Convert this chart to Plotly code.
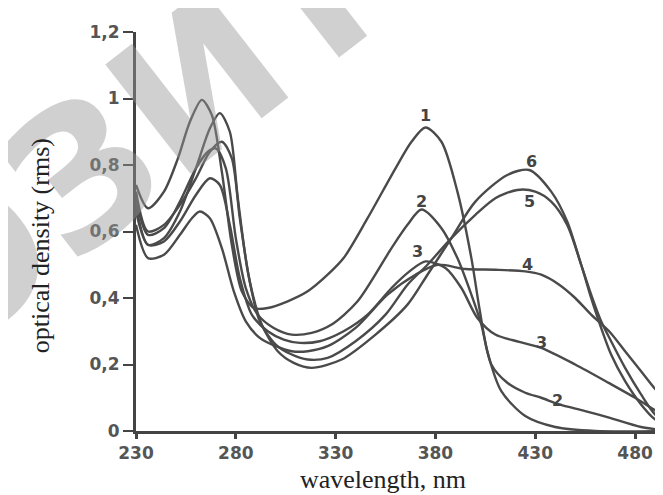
import plotly.graph_objects as go

# x-axis ticks and y-axis ticks
x_ticks = [230, 280, 330, 380, 430, 480]
y_ticks = [0, 0.2, 0.4, 0.6, 0.8, 1.0, 1.2]
y_tick_text = ["0", "0,2", "0,4", "0,6", "0,8", "1", "1,2"]

# curve 1
wl1 = [230, 236, 244, 251, 257, 263, 268, 273, 278, 283, 289, 296, 306, 316, 326, 334, 346, 360, 368, 375,
       383, 391, 398, 402, 406, 413, 425, 440, 460, 498]
od1 = [0.74, 0.67, 0.72, 0.82, 0.93, 0.996, 0.95, 0.78, 0.56, 0.42, 0.37, 0.37, 0.39, 0.42, 0.47, 0.52, 0.64, 0.79, 0.87, 0.913,
       0.87, 0.72, 0.52, 0.37, 0.24, 0.12, 0.045, 0.012, 0.0, 0.0]
# curve 2
wl2 = [230, 236, 244, 252, 260, 266, 270, 275, 280, 285, 291, 299, 308, 318, 328, 341, 358, 366, 373,
       383, 391, 398, 403, 408, 416, 425, 433, 442, 455, 467, 483, 498]
od2 = [0.70, 0.59, 0.61, 0.69, 0.79, 0.84, 0.85, 0.79, 0.58, 0.43, 0.35, 0.31, 0.29, 0.295, 0.32, 0.39, 0.55, 0.62, 0.666,
       0.61, 0.52, 0.41, 0.32, 0.20, 0.145, 0.115, 0.10, 0.08, 0.06, 0.04, 0.012, 0.0]
# curve 3
wl3 = [230, 236, 244, 252, 260, 267, 272, 277, 282, 288, 296, 304, 312, 322, 334, 346, 358, 367, 375,
       385, 393, 401, 410, 422, 433, 450, 467, 480, 492, 498]
od3 = [0.66, 0.56, 0.57, 0.63, 0.71, 0.76, 0.74, 0.62, 0.46, 0.35, 0.30, 0.275, 0.265, 0.27, 0.30, 0.35, 0.43, 0.48, 0.51,
       0.49, 0.43, 0.34, 0.29, 0.268, 0.25, 0.20, 0.144, 0.10, 0.055, 0.035]
# curve 4
wl4 = [230, 236, 244, 252, 258, 262, 267, 273, 279, 285, 292, 300, 308, 316, 326, 340, 356, 370, 381,
       395, 410, 425, 433, 442, 450, 458, 467, 475, 483, 491, 498]
od4 = [0.62, 0.52, 0.53, 0.59, 0.64, 0.66, 0.64, 0.55, 0.42, 0.33, 0.28, 0.255, 0.24, 0.24, 0.255, 0.31, 0.41, 0.47, 0.50,
       0.487, 0.485, 0.48, 0.47, 0.44, 0.40, 0.35, 0.30, 0.24, 0.18, 0.12, 0.08]
# curve 5
wl5 = [230, 236, 244, 252, 260, 267, 272, 277, 281, 286, 292, 300, 308, 316, 326, 340, 355, 366, 376,
       388, 400, 410, 421, 430, 438, 446, 453, 458, 463, 468, 475, 483, 490, 498]
od5 = [0.68, 0.56, 0.58, 0.66, 0.79, 0.91, 0.956, 0.90, 0.70, 0.48, 0.33, 0.26, 0.23, 0.215, 0.22, 0.27, 0.35, 0.44, 0.50,
       0.58, 0.65, 0.70, 0.725, 0.72, 0.69, 0.62, 0.50, 0.40, 0.31, 0.23, 0.15, 0.08, 0.035, 0.01]
# curve 6
wl6 = [230, 236, 244, 252, 260, 267, 273, 278, 282, 287, 293, 301, 309, 318, 333, 350, 366, 376,
       388, 400, 416, 427, 438, 446, 453, 458, 463, 468, 475, 483, 490, 498]
od6 = [0.72, 0.60, 0.62, 0.68, 0.76, 0.84, 0.87, 0.82, 0.64, 0.45, 0.32, 0.24, 0.205, 0.19, 0.215, 0.29, 0.38, 0.47,
       0.58, 0.69, 0.77, 0.785, 0.72, 0.63, 0.50, 0.41, 0.33, 0.27, 0.19, 0.11, 0.05, 0.015]

# curve labels
label_text = ["1", "2", "3", "6", "5", "4", "3", "2"]
label_x = [375, 373, 371, 428, 427, 426, 433, 441]
label_y = [0.95, 0.69, 0.54, 0.81, 0.69, 0.50, 0.265, 0.093]

LINE = "#4a4a4a"
fig = go.Figure()
for wl, od in [(wl1, od1), (wl2, od2), (wl3, od3), (wl4, od4), (wl5, od5), (wl6, od6)]:
    fig.add_trace(go.Scatter(x=wl, y=od, mode="lines",
                             line=dict(color=LINE, width=2.4, shape="spline", smoothing=0.8),
                             showlegend=False, hoverinfo="skip", cliponaxis=True))

tick_font = dict(family="DejaVu Sans", size=17, color="#555555", weight="bold")
ann = []
# watermark (drawn first, behind other annotations)
ann.append(dict(x=0.135, y=0.89, xref="paper", yref="paper", text="РЕПОЗИТОРИЙ",
                xanchor="center", yanchor="middle",
                textangle=-38, showarrow=False,
                font=dict(family="DejaVu Sans", size=190, color="rgba(150,150,150,0.45)", weight="bold")))
for t, x, y in zip(label_text, label_x, label_y):
    ann.append(dict(x=x, y=y, text=t, showarrow=False, xref="x", yref="y",
                    font=dict(family="DejaVu Sans", size=16, color="#444444", weight="bold")))
ann.append(dict(x=-0.178, y=0.465, xref="paper", yref="paper", text="optical density (rms)",
                xanchor="center", yanchor="middle",
                textangle=-90, showarrow=False,
                font=dict(family="Liberation Serif", size=26, color="#222222")))
ann.append(dict(x=0.462, y=-0.122, xref="paper", yref="paper", text="wavelength, nm",
                xanchor="center", yanchor="middle",
                showarrow=False, font=dict(family="Liberation Serif", size=26, color="#222222")))

fig.update_layout(
    width=663, height=495,
    margin=dict(l=128, r=0, t=24, b=72),
    paper_bgcolor="white", plot_bgcolor="white",
    annotations=ann,
    xaxis=dict(range=[230, 498], tickvals=x_ticks, ticktext=[str(v) for v in x_ticks],
               showline=True, linecolor="#444444", linewidth=3, showgrid=False, zeroline=False,
               ticks="outside", ticklen=5, tickwidth=3, tickcolor="#444444",
               tickfont=tick_font, ticklabelstandoff=0),
    yaxis=dict(range=[0, 1.2], tickvals=y_ticks, ticktext=y_tick_text,
               showline=True, linecolor="#444444", linewidth=3, showgrid=False, zeroline=False,
               ticks="outside", ticklen=10, tickwidth=2, tickcolor="#444444",
               tickfont=tick_font),
)
fig.write_html("out.html")
